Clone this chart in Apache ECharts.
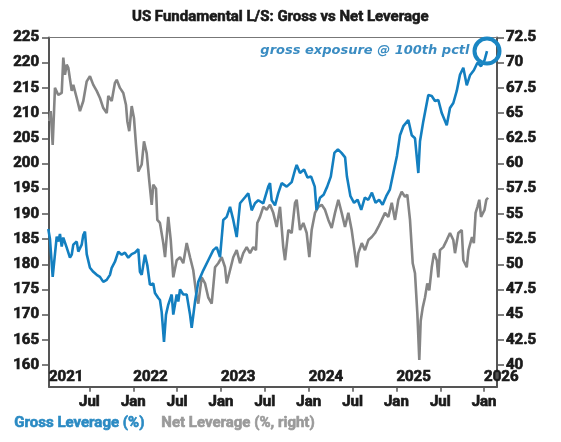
<!DOCTYPE html>
<html><head><meta charset="utf-8">
<script src="https://cdn.jsdelivr.net/npm/echarts@6/dist/echarts.min.js"></script>
<style>html,body{margin:0;padding:0;background:#fff}#c{width:561px;height:442px}</style>
</head><body><div id="c"></div>
<script>
// Time in fractional years
const grossT = [2021.031,2021.050,2021.081,2021.107,2021.127,2021.145,2021.164,2021.184,2021.202,2021.241,
2021.278,2021.298,2021.316,2021.355,2021.373,2021.412,2021.430,2021.449,2021.469,2021.506,
2021.544,2021.583,2021.620,2021.658,2021.697,2021.734,2021.754,2021.791,2021.829,2021.868,
2021.905,2021.943,2021.982,2022.019,2022.057,2022.076,2022.096,2022.133,2022.160,2022.190,
2022.228,2022.247,2022.285,2022.304,2022.324,2022.350,2022.373,2022.399,2022.438,2022.456,
2022.495,2022.513,2022.533,2022.570,2022.609,2022.647,2022.666,2022.704,2022.741,2022.798,
2022.855,2022.912,2022.951,2022.989,2023.026,2023.065,2023.103,2023.140,2023.179,2023.217,
2023.274,2023.311,2023.350,2023.388,2023.425,2023.482,2023.539,2023.559,2023.578,2023.616,
2023.653,2023.692,2023.749,2023.806,2023.844,2023.863,2023.901,2023.947,2023.986,2024.028,
2024.069,2024.089,2024.129,2024.170,2024.211,2024.252,2024.293,2024.333,2024.374,2024.415,
2024.436,2024.476,2024.517,2024.558,2024.599,2024.640,2024.680,2024.721,2024.762,2024.803,
2024.843,2024.884,2024.925,2024.966,2025.006,2025.041,2025.079,2025.136,2025.175,2025.212,
2025.250,2025.269,2025.307,2025.364,2025.403,2025.440,2025.478,2025.517,2025.574,2025.611,
2025.649,2025.688,2025.725,2025.763,2025.802,2025.839,2025.883,2025.924,2025.965,2026.005,
2026.033];
const grossV = [187,185,177.5,182,185.5,184.5,186,183.5,185.3,183.3,
181.3,181.9,183.9,184.5,182.5,183.9,185.8,186.5,182,179.3,
178.5,177.9,177.5,176.5,176.9,177.9,179.3,180.5,182.5,181.9,
182.3,181.3,182,182.3,183,178.5,177.9,181.9,179.8,175.9,
176.2,174.3,173.3,172.9,170.5,164.6,170,172,174,170,
174,172.6,175,174,174,170,167.4,172.6,176.5,178.8,
180.8,182.8,183.4,181.4,188.8,189.4,191.4,188.8,185.4,192.1,
193.3,194.1,190.7,192.1,192.7,192.1,195.4,196.1,192.7,191.7,
194.1,196.1,195.4,196.3,198.7,199.7,198.1,198.8,197.2,197.4,
195.4,190.8,193.2,193.8,195.4,197.4,202.1,202.8,202.1,201.2,
197.4,193.5,192.2,192.8,190.8,193.2,192.8,194.2,192.2,192.8,
191.8,193.5,194.8,198.2,201.5,205.6,207.4,208.6,205.6,205,
198.1,204.4,208.4,213.6,213.4,212.4,212.6,210,207.6,211,
212,214.4,217.6,219,215.5,217.5,218.5,220,219.3,220.5,
222.3];
const netT = [2021.042,2021.058,2021.081,2021.107,2021.145,2021.184,2021.202,2021.221,2021.241,2021.259,
2021.298,2021.316,2021.355,2021.392,2021.430,2021.469,2021.506,2021.544,2021.583,2021.620,
2021.658,2021.697,2021.715,2021.754,2021.791,2021.811,2021.848,2021.886,2021.917,2021.932,
2021.954,2021.982,2022.008,2022.031,2022.057,2022.096,2022.122,2022.153,2022.183,2022.210,
2022.228,2022.259,2022.274,2022.304,2022.342,2022.362,2022.399,2022.427,2022.456,2022.495,
2022.533,2022.570,2022.609,2022.647,2022.684,2022.723,2022.741,2022.780,2022.818,2022.855,
2022.894,2022.932,2022.969,2023.008,2023.046,2023.065,2023.103,2023.140,2023.179,2023.217,
2023.254,2023.293,2023.331,2023.368,2023.399,2023.414,2023.445,2023.482,2023.521,2023.559,
2023.596,2023.635,2023.673,2023.710,2023.730,2023.768,2023.806,2023.844,2023.863,2023.901,
2023.939,2023.977,2024.007,2024.034,2024.072,2024.110,2024.148,2024.186,2024.224,2024.262,
2024.300,2024.338,2024.376,2024.414,2024.452,2024.490,2024.517,2024.548,2024.566,2024.605,
2024.642,2024.680,2024.719,2024.756,2024.794,2024.833,2024.870,2024.908,2024.947,2024.984,
2025.022,2025.060,2025.098,2025.124,2025.155,2025.186,2025.212,2025.239,2025.261,2025.277,
2025.300,2025.326,2025.352,2025.375,2025.403,2025.429,2025.460,2025.478,2025.497,2025.535,
2025.574,2025.611,2025.649,2025.668,2025.706,2025.745,2025.763,2025.802,2025.822,2025.862,
2025.883,2025.903,2025.924,2025.945,2025.965,2026.005,2026.025,2026.045];
const netV = [64.2,65.2,61.85,67.5,66.8,67,70.5,68.8,69.8,69.5,
67.2,67.8,66.5,65.2,66.2,68.15,68.65,67.8,67.2,66.5,
65.5,65,66.7,66.2,68,68.3,67.5,67,65.8,64.2,
63.2,65.7,64.5,61.85,59.2,59.9,62.2,61,58.2,55.9,
57.9,57.5,54.4,54.1,52.1,50.7,54.7,52.4,48.7,50.4,
50.7,50.1,52.1,50.7,49.4,46.7,46.1,48.7,48.1,46.7,
46.1,49.7,50.1,50.7,49.7,48.1,49.4,50.7,51.4,50.1,
51.1,51.7,51.1,51.7,51.4,54.1,54.7,55.7,55.4,55.9,
55.1,53.7,55.7,51.7,50.4,53.4,53.1,56.1,56.4,53.4,
54.1,53.1,50.7,53.4,55.1,55.7,55.9,55.4,54.4,53.6,
55.1,56.4,55.1,53.7,55.1,53.4,51.7,49.7,51.1,52.1,
51.4,52.4,52.7,53.1,53.7,54.4,55.1,54.7,56.1,54.4,
56.4,57.2,56.7,56.9,54.4,50.1,49.1,45.1,40.5,44.4,
45.7,46.7,48.1,47.4,49.7,51.1,50.4,48.7,51.4,51.7,
52.4,53.1,52.4,51.1,53.1,53.4,50.4,49.7,51.4,52.7,
52.1,55.1,55.7,56.4,54.7,55.4,56.4,56.6];

const monthTicks = [2021.5,2022,2022.5,2023,2023.5,2024,2024.5,2025,2025.5,2026];
const yearTicks = [2021,2022,2023,2024,2025,2026];
const leftTicks = [160,165,170,175,180,185,190,195,200,205,210,215,220,225];
const rightTicks = [40,42.5,45,47.5,50,52.5,55,57.5,60,62.5,65,67.5,70,72.5];

const X_MIN = 2021.039, X_MAX = 2026.147;
const L_MIN = 155.7, L_MAX = 225, R_MIN = 37.85, R_MAX = 72.5;

const grossData = grossT.map((t, i) => [t, grossV[i]]);
const netData = netT.map((t, i) => [t, netV[i]]);
let mi = 0; grossV.forEach((v, i) => { if (v > grossV[mi]) mi = i; });

const INK = '#1a1a1a';
const lab = {fontFamily: 'Roboto', fontWeight: 'bold', fontSize: 15, color: INK,
  textBorderColor: INK, textBorderWidth: 0.7};
const AX = '#555';

const chart = echarts.init(document.getElementById('c'), null, {renderer: 'canvas'});
chart.setOption({
  animation: false,
  backgroundColor: '#fff',
  title: {text: 'US Fundamental L/S: Gross vs Net Leverage', left: 127, top: 5,
    textStyle: {fontFamily: 'Roboto', fontWeight: 'bold', fontSize: 15, color: INK,
      textBorderColor: INK, textBorderWidth: 0.6}},
  grid: {left: 49, right: 64, top: 37.5, bottom: 55.3, containLabel: false},
  xAxis: [
    {type: 'value', min: X_MIN, max: X_MAX, position: 'bottom', splitLine: {show: false},
     axisLine: {show: true, lineStyle: {color: AX, width: 2}},
     axisTick: {show: true, length: 5, customValues: monthTicks, lineStyle: {color: AX, width: 1.5}},
     axisLabel: Object.assign({customValues: monthTicks, margin: 8,
       formatter: v => (Math.abs(v - Math.round(v)) < 0.01 ? 'Jan' : 'Jul')}, lab)},
    {type: 'value', min: X_MIN, max: X_MAX, position: 'bottom', splitLine: {show: false},
     axisLine: {show: false}, axisTick: {show: false},
     axisLabel: Object.assign({inside: true, margin: 2, align: 'left',
       customValues: yearTicks.map(y => Math.max(y, X_MIN)),
       formatter: v => String(Math.round(v))}, lab)},
    {type: 'value', min: X_MIN, max: X_MAX, position: 'top', splitLine: {show: false},
     axisLine: {show: true, lineStyle: {color: '#777', width: 1.2}},
     axisTick: {show: false}, axisLabel: {show: false}}
  ],
  yAxis: [
    {type: 'value', min: L_MIN, max: L_MAX, position: 'left', splitLine: {show: false},
     axisLine: {show: true, lineStyle: {color: AX, width: 2}},
     axisTick: {show: true, length: 7, customValues: leftTicks, lineStyle: {color: AX, width: 1.5}},
     axisLabel: Object.assign({customValues: leftTicks, margin: 10}, lab)},
    {type: 'value', min: R_MIN, max: R_MAX, position: 'right', splitLine: {show: false},
     axisLine: {show: true, lineStyle: {color: AX, width: 2}},
     axisTick: {show: true, length: 7, customValues: rightTicks, lineStyle: {color: AX, width: 1.5}},
     axisLabel: Object.assign({customValues: rightTicks, margin: 9}, lab)}
  ],
  series: [
    {name: 'Net Leverage (%, right)', type: 'line', xAxisIndex: 0, yAxisIndex: 1, data: netData,
     showSymbol: false, symbol: 'none', lineStyle: {color: '#858585', width: 2.6}, itemStyle: {color: '#858585'}},
    {name: 'Gross Leverage (%)', type: 'line', xAxisIndex: 0, yAxisIndex: 0, data: grossData,
     showSymbol: false, symbol: 'none', lineStyle: {color: '#137fc0', width: 2.6}, itemStyle: {color: '#137fc0'},
     markPoint: {
       symbol: 'circle', symbolSize: 25,
       itemStyle: {color: 'rgba(0,0,0,0)', borderColor: '#1a86c3', borderWidth: 4},
       label: {show: true, position: 'left', distance: 3, formatter: 'gross exposure @ 100th pctl',
         color: '#3a8cc2', fontStyle: 'italic', fontWeight: 'bold', fontSize: 13, fontFamily: 'DejaVu Sans'},
       data: [{name: 'peak', coord: [grossT[mi], grossV[mi]]}]
     }}
  ],
  graphic: [
    {type: 'text', left: 14, top: 415, style: {text: 'Gross Leverage (%)', fill: '#2a8ac3',
      font: 'bold 15px Roboto', stroke: '#2a8ac3', lineWidth: 0.6}},
    {type: 'text', left: 161, top: 415, style: {text: 'Net Leverage (%, right)', fill: '#9a9a9a',
      font: 'bold 15px Roboto', stroke: '#9a9a9a', lineWidth: 0.6}}
  ]
});
</script></body></html>
